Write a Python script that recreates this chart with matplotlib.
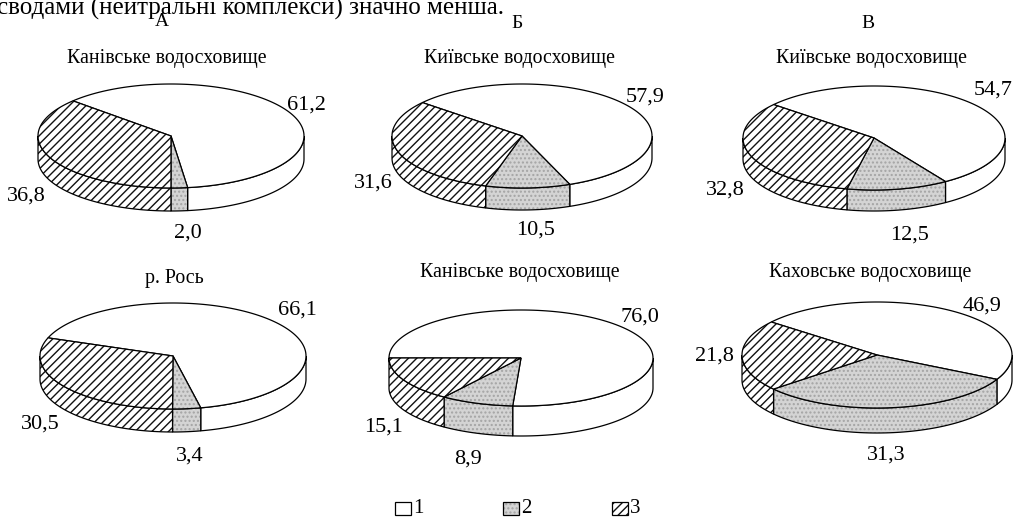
import numpy as np
import matplotlib.pyplot as plt
from matplotlib.patches import Polygon, Rectangle

plt.rcParams['font.family'] = ['Liberation Serif', 'DejaVu Serif']
plt.rcParams['hatch.linewidth'] = 1.0

# shares of fractions 1, 2, 3 (%) for every pie
titles = ["Канівське водосховище", "Київське водосховище", "Київське водосховище",
          "р. Рось", "Канівське водосховище", "Каховське водосховище"]
share1 = [61.2, 57.9, 54.7, 66.1, 76.0, 46.9]
share2 = [2.0, 10.5, 12.5, 3.4, 8.9, 31.3]
share3 = [36.8, 31.6, 32.8, 30.5, 15.1, 21.8]
column_letters = ["А", "Б", "В"]
legend_labels = ["1", "2", "3"]
page_line = "сводами (нейтральні комплекси) значно менша."

# layout in pixels (y goes down)
centers = [(171, 136), (522, 136), (874, 138), (173, 356), (521, 358), (877, 355)]
rx = [133, 130, 131, 133, 132, 135]
ry = [52, 52, 52, 53, 48, 53]
depth = [23, 22, 21, 23, 30, 25]
start_angles = [137.5, 140, 140, 160, 180, 141.5]
title_xy = [(167, 59), (520, 59), (872, 58), (174, 279), (520, 272), (870, 272)]
letter_xy = [(162, 21), (517, 23), (868, 23)]
label_xy = [[(306, 105), (188, 233), (26, 196)],
            [(645, 97), (536, 230), (373, 183)],
            [(993, 90), (910, 235), (725, 190)],
            [(297, 310), (190, 456), (40, 424)],
            [(640, 317), (468, 459), (384, 427)],
            [(982, 306), (886, 455), (714, 356)]]
legend_x = [395, 503, 612]
legend_y = 502

# facecolor, hatch, hatch colour
fills = [('white', None, 'none'),
         ('#d4d4d4', '....', '#a4a4a4'),
         ('white', '////', '#111111')]


def ell(cx, cy, a, b, t):
    r = np.radians(t)
    return cx + a * np.cos(r), cy - b * np.sin(r)


def face(ax, pts, style):
    fc, hatch, hc = style
    ax.add_patch(Polygon(pts, closed=True, facecolor=fc, edgecolor=hc, hatch=hatch, lw=0))
    ax.add_patch(Polygon(pts, closed=True, fill=False, edgecolor='black', lw=0.9))


def draw_pie(ax, k):
    vals = [share1[k], share2[k], share3[k]]
    total = sum(vals)
    cx, cy = centers[k]
    a, b, h = rx[k], ry[k], depth[k]
    start = start_angles[k]
    spans = []
    for v in vals:
        lo = start - 360 * v / total
        spans.append((lo, start))
        start = lo
    # front wall
    for i, (lo, hi) in enumerate(spans):
        for s in (-360, 0, 360):
            a0 = max(lo + s, 180)
            a1 = min(hi + s, 360)
            if a1 - a0 > 0.01:
                t = np.linspace(a0, a1, 80)
                x, y = ell(cx, cy, a, b, t)
                pts = np.r_[np.c_[x, y], np.c_[x[::-1], y[::-1] + h]]
                face(ax, pts, fills[i])
    # top
    for i, (lo, hi) in enumerate(spans):
        t = np.linspace(lo, hi, 150)
        x, y = ell(cx, cy, a, b, t)
        pts = np.r_[[[cx, cy]], np.c_[x, y]]
        face(ax, pts, fills[i])
    for j, v in enumerate(vals):
        lx, ly = label_xy[k][j]
        ax.text(lx, ly, f"{v:.1f}".replace('.', ','), fontsize=16,
                ha='center', va='center')
    tx, ty = title_xy[k]
    ax.text(tx, ty, titles[k], fontsize=14.3, ha='center', va='center')


fig = plt.figure(figsize=(10.14, 5.19), dpi=100)
ax = fig.add_axes([0, 0, 1, 1])
ax.set_xlim(0, 1014)
ax.set_ylim(519, 0)
ax.axis('off')

ax.text(-3, 15, page_line, fontsize=18, ha='left', va='baseline')
for (x, y), s in zip(letter_xy, column_letters):
    ax.text(x, y + 1, s, fontsize=14, ha='center', va='center')

for k in range(6):
    draw_pie(ax, k)

for i, s in enumerate(legend_labels):
    x = legend_x[i]
    fc, hatch, hc = fills[i]
    ax.add_patch(Rectangle((x, legend_y), 16, 13, facecolor=fc, edgecolor=hc, hatch=hatch, lw=0))
    ax.add_patch(Rectangle((x, legend_y), 16, 13, fill=False, edgecolor='black', lw=0.9))
    ax.text(x + 18, legend_y + 6.5, s, fontsize=15, ha='left', va='center')

fig.savefig('out.png', dpi=100)
